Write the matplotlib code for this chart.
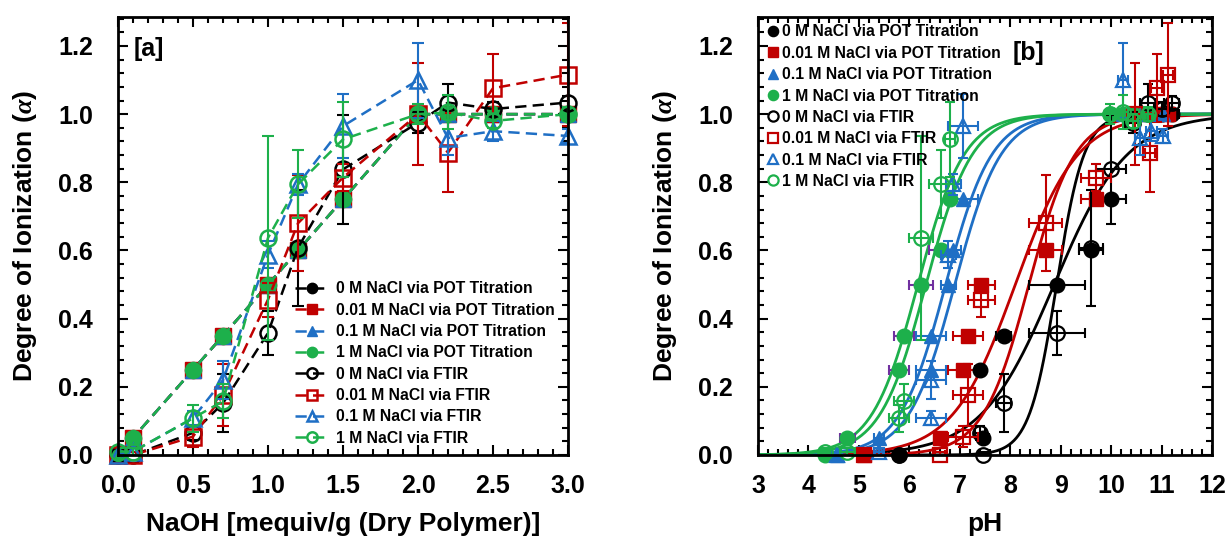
import numpy as np
import matplotlib
matplotlib.use("Agg")
import matplotlib.pyplot as plt
from matplotlib.ticker import MultipleLocator

plt.rcParams['font.family'] = ['Liberation Sans', 'DejaVu Sans']
plt.rcParams['font.weight'] = 'bold'
plt.rcParams['mathtext.fontset'] = 'custom'
plt.rcParams['mathtext.it'] = 'Liberation Serif:italic:bold'

# NaOH dose [mequiv/g]
dose = [0, 0.1, 0.5, 0.7, 1.0, 1.2, 1.5, 2.0, 2.2, 2.5, 3.0]

# degree of ionization from potentiometric titration (same for every salt level)
alpha_pot = [0, 0.05, 0.25, 0.35, 0.5, 0.6, 0.75, 1.0, 1.0, 1.0, 1.0]

# degree of ionization from FTIR
ftir_0 = [0, 0, 0.065, 0.152, 0.358, 0.608, 0.838, 0.975, 1.034, 1.015, 1.034]
ftir_001 = [0, 0, 0.054, 0.176, 0.456, 0.68, 0.814, 1.0, 0.887, 1.076, 1.116]
ftir_01 = [0, 0.01, 0.108, 0.22, 0.588, 0.794, 0.965, 1.10, 0.93, 0.95, 0.936]
ftir_1 = [0.01, 0.01, 0.108, 0.158, 0.637, 0.794, 0.926, 1.0, 1.005, 0.98, 1.0]

err_0 = [0.01, 0.01, 0.02, 0.085, 0.065, 0.17, 0.16, 0.03, 0.055, 0.02, 0.02]
err_001 = [0.01, 0.01, 0.03, 0.09, 0.05, 0.14, 0.04, 0.15, 0.115, 0.10, 0.15]
err_01 = [0.01, 0.01, 0.02, 0.055, 0.04, 0.03, 0.095, 0.11, 0.05, 0.03, 0.02]
err_1 = [0.01, 0.01, 0.04, 0.05, 0.30, 0.10, 0.11, 0.03, 0.05, 0.02, 0.02]

# measured pH at each dose
ph_0 = [5.8, 7.47, 7.4, 7.87, 8.93, 9.6, 10.0, 10.43, 10.73, 11.0, 11.2]
ph_001 = [5.1, 6.6, 7.07, 7.17, 7.43, 8.7, 9.7, 10.47, 10.77, 10.9, 11.13]
ph_01 = [4.57, 5.4, 6.43, 6.43, 6.77, 6.87, 7.07, 10.23, 10.57, 10.8, 11.03]
ph_1 = [4.33, 4.77, 5.8, 5.9, 6.23, 6.63, 6.8, 9.97, 10.23, 10.43, 10.73]

pherr_0 = [0.1, 0.1, 0.1, 0.15, 0.55, 0.23, 0.3, 0.15, 0.15, 0.15, 0.15]
pherr_001 = [0.1, 0.1, 0.3, 0.3, 0.27, 0.33, 0.3, 0.15, 0.1, 0.1, 0.1]
pherr_01 = [0.1, 0.1, 0.3, 0.3, 0.15, 0.15, 0.3, 0.1, 0.1, 0.1, 0.1]
pherr_1 = [0.1, 0.15, 0.2, 0.2, 0.23, 0.25, 0.1, 0.1, 0.1, 0.1, 0.1]

# Henderson-Hasselbalch fit parameters (pKa, n): POT fit, FTIR fit
fit_0 = [(8.87, 0.6), (8.92, 1.6)]
fit_001 = [(8.1, 0.7), (8.37, 0.95)]
fit_01 = [(6.72, 0.95), (6.9, 0.95)]
fit_1 = [(6.17, 0.95), (6.33, 0.95)]

salts = ['0', '0.01', '0.1', '1']
colors = ['black', '#C00000', '#1F6FC5', '#1DB04B']
pot_mk = ['o', 's', '^', 'o']
ftir_mk = ['o', 's', '^', 'o']
ftir_all = [ftir_0, ftir_001, ftir_01, ftir_1]
err_all = [err_0, err_001, err_01, err_1]
ph_all = [ph_0, ph_001, ph_01, ph_1]
pherr_all = [pherr_0, pherr_001, pherr_01, pherr_1]
fit_all = [fit_0, fit_001, fit_01, fit_1]

fig = plt.figure(figsize=(12.29, 5.39), dpi=100)
axa = fig.add_axes([118/1229, 84/539, 450/1229, 438/539])
axb = fig.add_axes([758/1229, 84/539, 454/1229, 438/539])

dash = (0, (4.5, 2.5))
ms = 11.5
leg_prop = {'weight': 'bold', 'size': 11.3}

# ---- panel a
for i in range(4):
    axa.plot(dose, alpha_pot, ls=dash, lw=1.8, color=colors[i], marker=pot_mk[i],
             ms=ms, mfc=colors[i], mec=colors[i], clip_on=False,
             label=salts[i] + ' M NaCl via POT Titration', zorder=3)
for i in range(4):
    axa.errorbar(dose, ftir_all[i], yerr=err_all[i], fmt='none', ecolor=colors[i],
                 elinewidth=1.5, capsize=4, capthick=1.5, zorder=4)
    axa.plot(dose, ftir_all[i], ls=dash, lw=1.8, color=colors[i], marker=ftir_mk[i],
             ms=ms, mfc='none', mec=colors[i], mew=1.8, clip_on=False,
             label=salts[i] + ' M NaCl via FTIR', zorder=4)

axa.set_xlim(0, 3.0)
axa.set_ylim(0, 1.285)
axa.xaxis.set_major_locator(MultipleLocator(0.5))
axa.xaxis.set_minor_locator(MultipleLocator(0.1))
axa.set_xlabel('NaOH [mequiv/g (Dry Polymer)]', fontsize=19, fontweight='bold', labelpad=10)
axa.text(0.035, 0.955, '[a]', transform=axa.transAxes, fontsize=18, fontweight='bold',
         va='top', ha='left')
axa.legend(loc='lower left', bbox_to_anchor=(0.393, 0.021), frameon=False,
           handlelength=2.2, handletextpad=0.4, labelspacing=0.405, borderpad=0,
           borderaxespad=0, markerscale=0.65, prop=leg_prop)

# ---- panel b
ph_line = np.linspace(3, 12, 400)
for i in range(4):
    for pka, n in fit_all[i]:
        axb.plot(ph_line, 1 / (1 + 10 ** (n * (pka - ph_line))), color=colors[i], lw=2,
                 zorder=2)

for i in range(4):
    capc = '#7030A0' if i == 3 else colors[i]
    axb.errorbar(ph_all[i], alpha_pot, xerr=pherr_all[i], fmt='none', ecolor=capc,
                 elinewidth=1.5, capsize=3.5, capthick=1.5, zorder=3)
    axb.plot(ph_all[i], alpha_pot, ls='none', marker=pot_mk[i], ms=10.5, color=colors[i],
             clip_on=False, label=salts[i] + ' M NaCl via POT Titration', zorder=4)
for i in range(4):
    axb.errorbar(ph_all[i], ftir_all[i], xerr=pherr_all[i], yerr=err_all[i], fmt='none',
                 ecolor=colors[i], elinewidth=1.5, capsize=3.5, capthick=1.5, zorder=5)
    axb.plot(ph_all[i], ftir_all[i], ls='none', marker=ftir_mk[i], ms=10.5, mfc='none',
             mec=colors[i], mew=1.6, clip_on=False,
             label=salts[i] + ' M NaCl via FTIR', zorder=5)

axb.set_xlim(3, 12)
axb.set_ylim(0, 1.285)
axb.xaxis.set_major_locator(MultipleLocator(1))
axb.xaxis.set_minor_locator(MultipleLocator(0.2))
axb.set_xlabel('pH', fontsize=19, fontweight='bold', labelpad=10)
axb.text(0.595, 0.945, '[b]', transform=axb.transAxes, fontsize=18, fontweight='bold',
         va='top', ha='center')
axb.legend(loc='upper left', bbox_to_anchor=(0.022, 0.983), frameon=False,
           handlelength=0.7, handletextpad=0.2, labelspacing=0.405, borderpad=0,
           borderaxespad=0, markerscale=0.7, prop=leg_prop)

for ax in (axa, axb):
    ax.yaxis.set_major_locator(MultipleLocator(0.2))
    ax.yaxis.set_minor_locator(MultipleLocator(0.04))
    ax.set_ylabel(r'Degree of Ionization ($\alpha$)', fontsize=19, fontweight='bold',
                  labelpad=14)
    ax.tick_params(which='both', direction='in', top=True, right=True, width=1.5)
    ax.tick_params(which='major', length=7, labelsize=18)
    ax.tick_params(axis='x', which='major', pad=14)
    ax.tick_params(axis='y', which='major', pad=18)
    ax.tick_params(which='minor', length=4)
    for s in ax.spines.values():
        s.set_linewidth(2)
        s.set_zorder(6)
    for lab in ax.get_xticklabels() + ax.get_yticklabels():
        lab.set_fontweight('bold')

fig.savefig('out.png', dpi=100)
